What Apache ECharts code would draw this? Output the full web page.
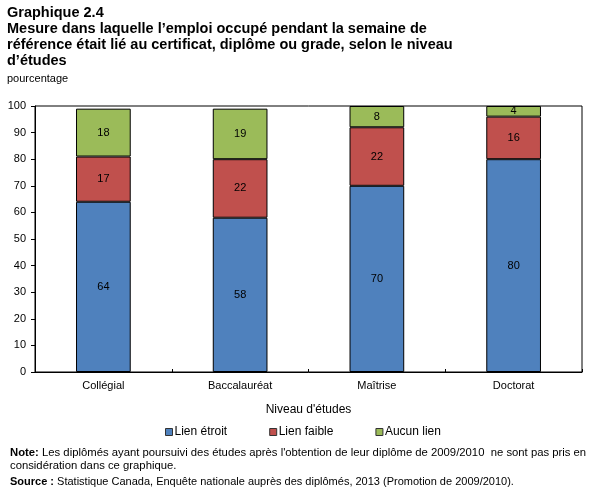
<!DOCTYPE html>
<html>
<head>
<meta charset="utf-8">
<script src="https://cdn.jsdelivr.net/npm/echarts@6/dist/echarts.min.js"></script>
<style>
html,body{margin:0;padding:0;background:#fff;}
#chart{width:607px;height:493px;}
</style>
</head>
<body>
<div id="chart"></div>
<script>
const categories = ['Collégial', 'Baccalauréat', 'Maîtrise', 'Doctorat'];
const lienEtroit = [64, 58, 70, 80];
const lienFaible = [17, 22, 22, 16];
const aucunLien = [18, 19, 8, 4];
const yTicks = { min: 0, max: 100, interval: 10 };

const FONT = '"Liberation Sans", Arial, sans-serif';
const chart = echarts.init(document.getElementById('chart'), null, { renderer: 'canvas' });

function mkSeries(name, data, color) {
  return {
    name: name,
    type: 'bar',
    stack: 'total',
    data: data,
    barWidth: '40%',
    itemStyle: { color: color, borderColor: '#000', borderWidth: 1 },
    label: { show: true, position: 'inside', color: '#000', fontSize: 11, fontFamily: FONT },
    emphasis: { disabled: true }
  };
}

chart.setOption({
  animation: false,
  backgroundColor: '#fff',
  textStyle: { fontFamily: FONT },
  graphic: [
    {
      type: 'text', left: 7, top: 5,
      style: {
        text: 'Graphique 2.4\nMesure dans laquelle l’emploi occupé pendant la semaine de\nréférence était lié au certificat, diplôme ou grade, selon le niveau\nd’études',
        font: 'bold 14.5px ' + FONT, fill: '#000', lineHeight: 16
      }
    },
    {
      type: 'text', left: 7, top: 73,
      style: { text: 'pourcentage', font: '11px ' + FONT, fill: '#000' }
    },
    {
      type: 'text', left: 10, top: 446,
      style: {
        text: '{b|Note:} Les diplômés ayant poursuivi des études après l\'obtention de leur diplôme de 2009/2010  ne sont pas pris en\nconsidération dans ce graphique.',
        font: '11.3px ' + FONT, fill: '#000', lineHeight: 13,
        rich: { b: { fontWeight: 'bold', fontSize: 11.3, fontFamily: FONT, fill: '#000' } }
      }
    },
    {
      type: 'text', left: 10, top: 475,
      style: {
        text: '{b|Source :} Statistique Canada, Enquête nationale auprès des diplômés, 2013 (Promotion de 2009/2010).',
        font: '11px ' + FONT, fill: '#000', lineHeight: 13,
        rich: { b: { fontWeight: 'bold', fontSize: 11, fontFamily: FONT, fill: '#000' } }
      }
    }
  ],
  legend: {
    left: 160, top: 421,
    itemWidth: 7, itemHeight: 7, itemGap: 42,
    icon: 'rect',
    selectedMode: false,
    textStyle: { fontSize: 12, color: '#000', fontFamily: FONT, padding: [0, 0, 0, -3] },
    itemStyle: { borderColor: '#333', borderWidth: 1 },
    data: ['Lien étroit', 'Lien faible', 'Aucun lien']
  },
  grid: {
    left: 35, right: 25, top: 106, bottom: 121,
    show: true, borderColor: '#000', borderWidth: 1, backgroundColor: 'transparent'
  },
  xAxis: {
    type: 'category',
    data: categories,
    name: 'Niveau d\'études',
    nameLocation: 'middle',
    nameGap: 32,
    nameTextStyle: { fontSize: 12, color: '#000', fontFamily: FONT },
    axisLine: { lineStyle: { color: '#000', width: 1 } },
    axisTick: { show: true, inside: true, length: 3, lineStyle: { color: '#000' } },
    axisLabel: { fontSize: 11, color: '#000', margin: 8, fontFamily: FONT },
    splitLine: { show: false }
  },
  yAxis: {
    type: 'value',
    min: yTicks.min, max: yTicks.max, interval: yTicks.interval,
    axisLine: { show: true, lineStyle: { color: '#000', width: 1 } },
    axisTick: { show: true, inside: false, length: 4, lineStyle: { color: '#000' } },
    axisLabel: { fontSize: 11, color: '#000', margin: 9, fontFamily: FONT },
    splitLine: { show: false }
  },
  series: [
    mkSeries('Lien étroit', lienEtroit, '#4f81bd'),
    mkSeries('Lien faible', lienFaible, '#c0504d'),
    mkSeries('Aucun lien', aucunLien, '#9bbb59')
  ]
});
</script>
</body>
</html>
